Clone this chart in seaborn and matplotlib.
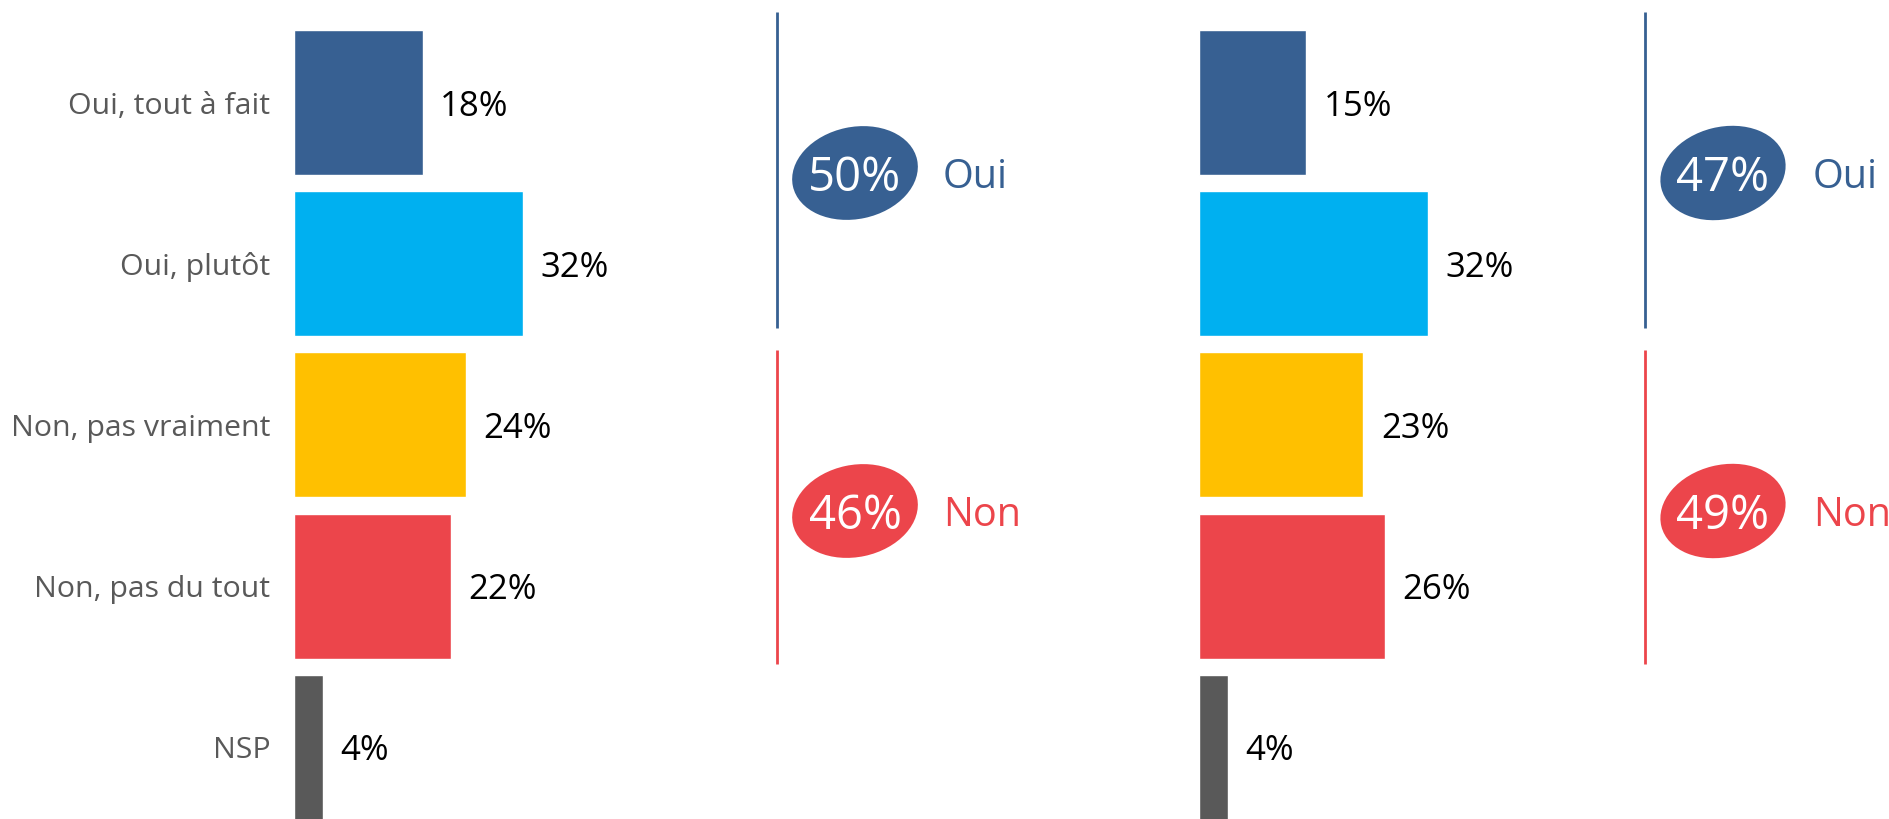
import matplotlib
matplotlib.use("Agg")
import matplotlib.pyplot as plt
from matplotlib.patches import Ellipse
import pandas as pd
import seaborn as sns

# ---- data -------------------------------------------------------------
categories = ["Oui, tout à fait", "Oui, plutôt", "Non, pas vraiment",
              "Non, pas du tout", "NSP"]
values_left = [18, 32, 24, 22, 4]
values_right = [15, 32, 23, 26, 4]
bar_colors = ["#376092", "#00B0F0", "#FFC000", "#EC454B", "#595959"]

group_names = ["Oui", "Non"]
group_members = [[0, 1], [2, 3]]          # indices of categories in each group
group_colors = ["#376092", "#EC454B"]

# ---- style ------------------------------------------------------------
sns.set_theme(style="white")
plt.rcParams["font.family"] = ["Open Sans", "DejaVu Sans"]

W, H = 1890, 819
fig = plt.figure(figsize=(W / 100, H / 100), dpi=100)
fig.patch.set_facecolor("white")

PX_PER_PCT = 7.15
XMAX = 60
SLOT = 161.2
TOP = 21.9


def px_axes(x0, y0, w, h, **kw):
    return fig.add_axes([x0 / W, 1 - (y0 + h) / H, w / W, h / H], **kw)


panels = [
    dict(values=values_left, bar_x=294, line_x=777, ell_x=855, lab_x=943,
         ticklabels=True, ell_angle=-12),
    dict(values=values_right, bar_x=1199, line_x=1645, ell_x=1723, lab_x=1813,
         ticklabels=False, ell_angle=-14),
]

# overlay in pixel coordinates for separators and group totals
deco = fig.add_axes([0, 0, 1, 1], zorder=5)
deco.set_xlim(0, W)
deco.set_ylim(H, 0)
deco.axis("off")
deco.patch.set_alpha(0)

group_line_y = [(12, 328), (350, 664)]
group_center_y = [173, 511]

for p in panels:
    df = pd.DataFrame({"category": categories, "value": p["values"]})
    ax = px_axes(p["bar_x"], TOP, XMAX * PX_PER_PCT, 5 * SLOT)
    sns.barplot(data=df, x="value", y="category", hue="category",
                palette=bar_colors, orient="h", width=0.9, saturation=1,
                legend=False, ax=ax)
    ax.set_xlim(0, XMAX)
    ax.set_ylim(4.5, -0.5)
    ax.set_xticks([])
    ax.set_xlabel("")
    ax.set_ylabel("")
    for s in ax.spines.values():
        s.set_visible(False)
    ax.tick_params(axis="y", length=0, pad=17, labelsize=21.8,
                   labelcolor="#595959", labelleft=p["ticklabels"])
    for lbl in ax.get_yticklabels():
        lbl.set_verticalalignment("center_baseline")
    ax.patch.set_alpha(0)
    for c in ax.containers:
        texts = ax.bar_label(c, fmt="%g%%", padding=12.5, fontsize=25,
                             color="black")
        for t in texts:
            t.set_verticalalignment("center_baseline")

    # group separators, totals and names
    for gi, (name, members, col) in enumerate(zip(group_names, group_members,
                                                  group_colors)):
        total = sum(p["values"][i] for i in members)
        y0, y1 = group_line_y[gi]
        deco.plot([p["line_x"], p["line_x"]], [y0, y1], color=col, lw=2,
                  solid_capstyle="butt")
        cy = group_center_y[gi]
        deco.add_patch(Ellipse((p["ell_x"], cy), 127, 92,
                               angle=p["ell_angle"], facecolor=col,
                               edgecolor="none"))
        deco.text(p["ell_x"], cy, f"{total}%", color="white",
                  fontsize=34, ha="center", va="center_baseline")
        deco.text(p["lab_x"], cy, name, color=col, fontsize=28.5,
                  ha="left", va="center_baseline")

fig.savefig("out.png", dpi=100, facecolor="white")
